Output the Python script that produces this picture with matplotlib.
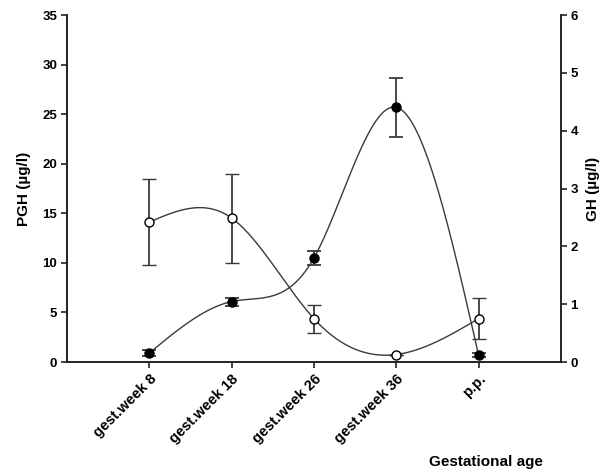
import numpy as np
import matplotlib
matplotlib.use('Agg')
import matplotlib.pyplot as plt

plt.rcParams['font.family'] = ['Liberation Sans', 'DejaVu Sans']

# data
labels = ['gest.week 8', 'gest.week 18', 'gest.week 26', 'gest.week 36', 'p.p.']
pgh = [0.9, 6.1, 10.5, 25.7, 0.7]          # filled, left axis (ug/l)
pgh_err = [0.3, 0.4, 0.7, 3.0, 0.2]
gh = [2.42, 2.49, 0.75, 0.13, 0.75]        # open, right axis (ug/l)
gh_err = [0.74, 0.77, 0.24, 0.0, 0.36]


def natural_spline(x, y, n=200):
    # natural cubic spline through the points, just for the smooth line
    x = np.asarray(x, float)
    y = np.asarray(y, float)
    k = len(x)
    h = np.diff(x)
    A = np.zeros((k, k))
    b = np.zeros(k)
    A[0, 0] = A[-1, -1] = 1
    for i in range(1, k - 1):
        A[i, i - 1] = h[i - 1]
        A[i, i] = 2 * (h[i - 1] + h[i])
        A[i, i + 1] = h[i]
        b[i] = 3 * ((y[i + 1] - y[i]) / h[i] - (y[i] - y[i - 1]) / h[i - 1])
    c = np.linalg.solve(A, b)
    xs, ys = [], []
    for i in range(k - 1):
        t = np.linspace(0, h[i], n)
        bi = (y[i + 1] - y[i]) / h[i] - h[i] * (2 * c[i] + c[i + 1]) / 3
        di = (c[i + 1] - c[i]) / (3 * h[i])
        xs.append(x[i] + t)
        ys.append(y[i] + bi * t + c[i] * t ** 2 + di * t ** 3)
    return np.concatenate(xs), np.concatenate(ys)


x = np.arange(1, len(labels) + 1)

fig = plt.figure(figsize=(6.09, 4.72), dpi=100)
ax = fig.add_axes([0.11, 0.233, 0.811, 0.735])
ax2 = ax.twinx()

lc = '#3a3a3a'
sx, sy = natural_spline(x, pgh)
ax.plot(sx, sy, color=lc, lw=1.0, zorder=2)
ax.errorbar(x, pgh, yerr=pgh_err, fmt='o', color='black', ms=6.5,
            mfc='black', mec='black', ecolor=lc, elinewidth=1.3,
            capsize=5, capthick=1.3, zorder=3)

sx2, sy2 = natural_spline(x, gh)
ax2.plot(sx2, sy2, color=lc, lw=1.0, zorder=2)
ax2.errorbar(x, gh, yerr=gh_err, fmt='o', color='black', ms=6.5,
             mfc='white', mec='black', mew=1.0, ecolor=lc, elinewidth=1.3,
             capsize=5, capthick=1.3, zorder=3)

ax.set_xlim(0, 6)
ax.set_ylim(0, 35)
ax2.set_ylim(0, 6)
ax.set_yticks(range(0, 36, 5))
ax2.set_yticks(range(0, 7))
ax.set_xticks(x)
ax.set_xticklabels(labels, rotation=45, ha='right', rotation_mode='anchor',
                   fontsize=10.5, fontweight='bold')

for a in (ax, ax2):
    a.spines['top'].set_visible(False)
    for s in a.spines.values():
        s.set_linewidth(1.2)
        s.set_color('#222222')
    a.tick_params(direction='out', length=4, width=1.2, pad=3, colors='#222222')
    a.tick_params(axis='y', labelsize=9.5, labelcolor='black')
    a.tick_params(axis='x', labelcolor='black')
    for t in a.get_yticklabels():
        t.set_fontweight('bold')

ax.set_ylabel('PGH (µg/l)', fontsize=11, fontweight='bold', labelpad=8)
ax2.set_ylabel('GH (µg/l)', fontsize=11, fontweight='bold', labelpad=6)
fig.text(0.798, 0.021, 'Gestational age', fontsize=11, fontweight='bold',
         ha='center', va='center')

plt.savefig('out.png', dpi=100)
